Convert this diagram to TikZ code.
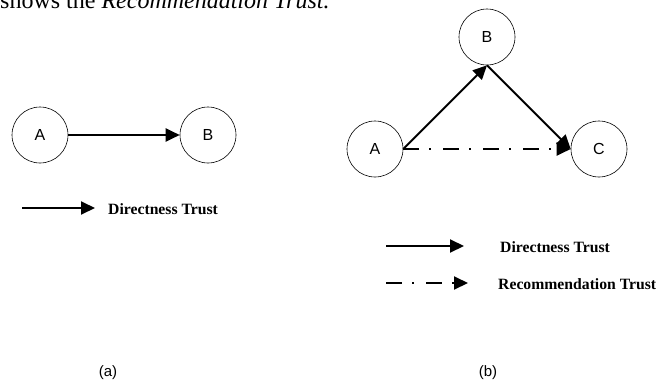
\documentclass[tikz,border=0pt]{standalone}
\usepackage{fontspec}
\setmainfont{Liberation Serif}
\setsansfont{Liberation Sans}
\usetikzlibrary{arrows.meta,positioning}
\definecolor{cInk}{HTML}{000000}
\tikzset{
  peer/.style={draw=cInk, circle, minimum size=56pt, inner sep=0pt,
     line width=0.6pt, font=\sffamily\fontsize{16}{18}\selectfont},
  direct/.style={-{Triangle[length=14pt,width=13pt]}, line width=2pt, draw=cInk},
  recommend/.style={direct, dash pattern=on 16pt off 10pt on 2pt off 12pt},
  legendtext/.style={anchor=west, inner sep=0pt,
     font=\bfseries\fontsize{15.7}{18}\selectfont},
  caption/.style={font=\sffamily\fontsize{15}{17}\selectfont},
}

\begin{document}
\begin{tikzpicture}[x=1pt, y=-1pt]
  \useasboundingbox (0,0) rectangle (670,383);
  \clip (0,0) rectangle (670,383);
  % running text cut off by the top edge
  \node[anchor=base west, inner sep=0pt, font=\fontsize{24}{26}\selectfont] (prose) at (0,8)
    {shows the \textit{Recommendation Trust.}};
  % (a) direct trust only
  \node[peer] (aA) at (40,135) {A};
  \node[peer] (aB) at (208,135) {B};
  \draw[direct] (aA.east) -- (aB.west);
  \coordinate (aKeyS) at (22,208);
  \coordinate (aKeyE) at (95,208);
  \draw[direct] (aKeyS) -- (aKeyE);
  \node[legendtext] (aKeyT) at (108,209) {Directness Trust};
  \node[caption] (capA) at (108,373) {(a)};
  % (b) trust passed on through B
  \node[peer] (bA) at (375,149) {A};
  \node[peer] (bB) at (487,37) {B};
  \node[peer] (bC) at (599,149) {C};
  \draw[direct] (bA.east) -- (bB.south);
  \draw[direct] (bB.south) -- (bC.west);
  \draw[recommend] (bA.east) -- (bC.west);
  \coordinate (bKey1S) at (386,246);
  \coordinate (bKey1E) at (464,246);
  \coordinate (bKey2S) at (386,283);
  \coordinate (bKey2E) at (468,283);
  \draw[direct] (bKey1S) -- (bKey1E);
  \draw[recommend] (bKey2S) -- (bKey2E);
  \node[legendtext] (bKey1T) at (500,247) {Directness Trust};
  \node[legendtext] (bKey2T) at (498,284) {Recommendation Trust};
  \node[caption] (capB) at (488,373) {(b)};
\end{tikzpicture}
\end{document}
